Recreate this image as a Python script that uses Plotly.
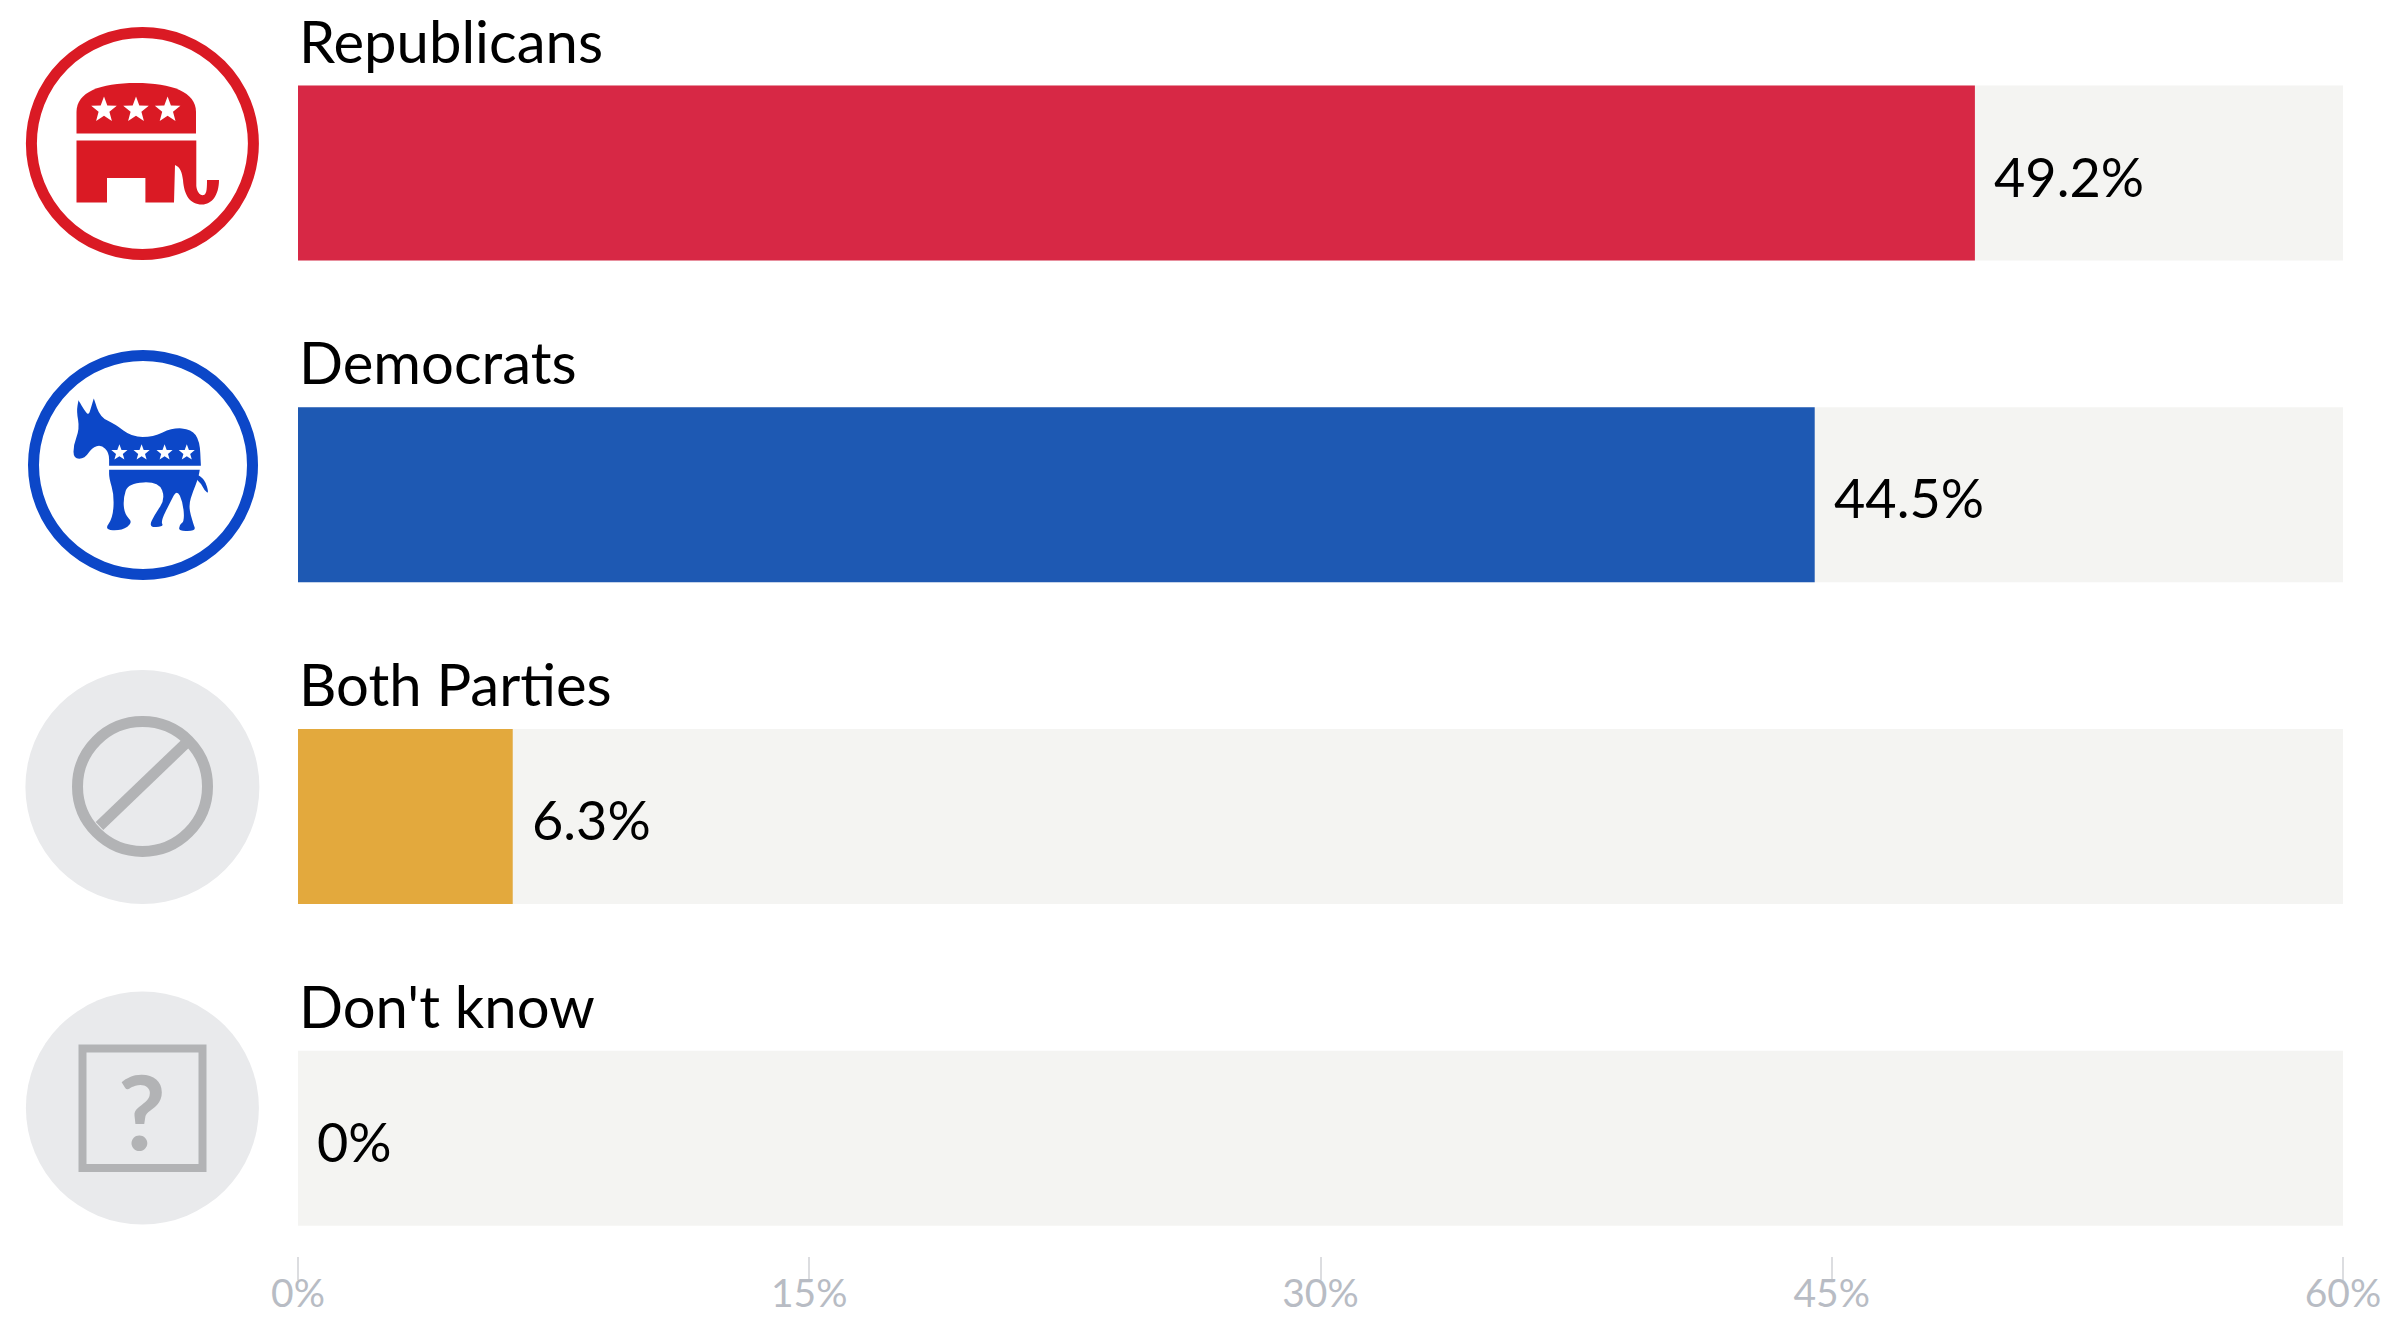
import math
import plotly.graph_objects as go

categories = ["Republicans", "Democrats", "Both Parties", "Don't know"]
values = [49.2, 44.5, 6.3, 0]
value_labels = ["49.2%", "44.5%", "6.3%", "0%"]
track_values = [60, 60, 60, 60]
bar_colors = ["#d72845", "#1e59b3", "#e3a93d", "#e3a93d"]
tick_values = [0, 15, 30, 45, 60]
tick_labels = ["0%", "15%", "30%", "45%", "60%"]

W, H = 2386, 1318
FONT = "Lato"
RED, BLUE, GREY_BG, GREY_FG = "#da1a24", "#0c47c8", "#e9eaec", "#b2b3b5"


def Z(x, y):
    return x / 2.613, y / 2.529


def smooth(points):
    """Rounded outline through midpoints; a point listed twice stays a sharp corner."""
    pts = [Z(*p) for p in points]
    n = len(pts)
    mid = lambda a, b: ((a[0] + b[0]) / 2, (a[1] + b[1]) / 2)
    start = mid(pts[-1], pts[0])
    d = f"M{start[0]:.1f},{start[1]:.1f}"
    for i in range(n):
        m = mid(pts[i], pts[(i + 1) % n])
        d += f" Q{pts[i][0]:.1f},{pts[i][1]:.1f} {m[0]:.1f},{m[1]:.1f}"
    return d + " Z"


def star(cx, cy, r):
    pts = []
    for i in range(10):
        a = -math.pi / 2 + i * math.pi / 5
        rr = r if i % 2 == 0 else r * 0.42
        pts.append((cx + rr * math.cos(a), cy + rr * math.sin(a)))
    return "M" + " L".join(f"{x:.1f},{y:.1f}" for x, y in pts) + " Z"


def shape(path=None, fill=None, line=None, lw=0):
    return dict(type="path", path=path, xref="x2", yref="y2", layer="above",
                fillcolor=fill or "rgba(0,0,0,0)",
                line=dict(color=line or "rgba(0,0,0,0)", width=lw))


def circle(cx, cy, r, fill=None, line=None, lw=0):
    return dict(type="circle", xref="x2", yref="y2", x0=cx - r, x1=cx + r, y0=cy - r, y1=cy + r,
                layer="above", fillcolor=fill or "rgba(0,0,0,0)",
                line=dict(color=line or "rgba(0,0,0,0)", width=lw))


A = (205, 1012)
B = (245, 1008)
C = (285, 1178)
D = (525, 1178)
E = (285, 1188)
F = (522, 1188)
shapes = [
    circle(142.4, 143.5, 111, "#ffffff", RED, 11),
    shape("M76.5,133.6 L76.5,112 C76.5,92 100,83 136,83 C172,83 196,92 196,112 L196,133.6 Z", RED),
    shape("M76.5,140.4 L196.3,140.4 L196.3,186 C197,192 200,196 204,195 C207,194 207,186 207,180 "
          "L219,180 C219,195 212,204.5 202,204.5 C190,204.5 184,195 183,180 C182,172 180,167 175,165 "
          "L174,202.5 L145.4,202.5 L145.4,178 L107,178 L107,202.5 L76.5,202.5 Z", RED),
    shape(star(104, 110, 13.5), "#ffffff"),
    shape(star(136, 110, 13.5), "#ffffff"),
    shape(star(167.6, 110, 13.5), "#ffffff"),
]

shapes += [
    circle(143, 465, 109.5, "#ffffff", BLUE, 11),
    shape(smooth([A, A, (222, 1040), (232, 1050), (238, 1030), B, B, (262, 1055), (300, 1072), (345, 1105),
                  (400, 1105), (450, 1082), (500, 1085), (522, 1115), D, D, C, C, (285, 1145),
                  (265, 1125), (240, 1132), (222, 1160), (192, 1160), (192, 1125), (208, 1085), (200, 1040)]), BLUE),
    shape(smooth([E, E, F, F, (518, 1210), (505, 1240), (492, 1280), (505, 1325), (512, 1342),
                  (468, 1344), (468, 1328), (482, 1318), (478, 1270), (462, 1238), (445, 1270), (420, 1318),
                  (428, 1332), (388, 1334), (405, 1300), (432, 1262), (415, 1218), (335, 1222), (322, 1260),
                  (325, 1300), (348, 1322), (318, 1342), (272, 1340), (295, 1310), (298, 1250), (285, 1210)]), BLUE),
    shape(smooth([(512, 1198), (535, 1212), (546, 1248), (535, 1242), (525, 1222), (512, 1212)]), BLUE),
]
for sx in (312, 370, 430, 488):
    x, y = Z(sx, 1145)
    shapes.append(shape(star(x, y, 8.5), "#ffffff"))

shapes += [
    circle(142.4, 787, 117, GREY_BG),
    circle(142.5, 786.5, 65, None, GREY_FG, 11),
    shape("M99.5,826 L187.5,741.6", None, GREY_FG, 11),
    circle(142.4, 1108, 116.5, GREY_BG),
    dict(type="rect", xref="x2", yref="y2", x0=82.5, x1=202.5, y0=1048.5, y1=1168, layer="above",
         fillcolor="rgba(0,0,0,0)", line=dict(color=GREY_FG, width=8)),
]

fig = go.Figure()
fig.add_bar(y=categories, x=track_values, orientation="h", marker=dict(color="#f4f4f2", line_width=0),
            width=0.544, hoverinfo="skip", showlegend=False)
fig.add_bar(y=categories, x=values, orientation="h", marker=dict(color=bar_colors, line_width=0),
            width=0.544, showlegend=False)

annotations = []
for c, v, t in zip(categories, values, value_labels):
    annotations.append(dict(x=v, y=c, xref="x", yref="y", text=t, showarrow=False, xanchor="left",
                            yanchor="middle", xshift=17, yshift=-3,
                            font=dict(family=FONT, size=54, color="#000000")))
    annotations.append(dict(x=0, y=c, xref="x", yref="y", text=c, showarrow=False, xanchor="left",
                            yanchor="middle", xshift=-1, yshift=133,
                            font=dict(family=FONT, size=58, color="#000000")))
annotations.append(dict(x=141.6, y=1109, xref="x2", yref="y2", text="<b>?</b>", showarrow=False,
                        xanchor="center", yanchor="middle",
                        font=dict(family=FONT, size=104, color=GREY_FG)))

fig.update_layout(
    width=W, height=H, margin=dict(l=0, r=0, t=0, b=0), autosize=False,
    paper_bgcolor="#ffffff", plot_bgcolor="rgba(0,0,0,0)", barmode="overlay",
    shapes=shapes, annotations=annotations,
    xaxis=dict(domain=[298 / W, 2343 / W], range=[0, 60], tickmode="array", tickvals=tick_values,
               ticktext=tick_labels, ticks="outside", ticklen=23, tickwidth=2, tickcolor="#dcdde0",
               ticklabelstandoff=-20,
               showgrid=False, zeroline=False, showline=False, automargin=False,
               tickfont=dict(family=FONT, size=39, color="#b8bcc4")),
    yaxis=dict(domain=[(H - 1256) / H, 1], range=[3.366, -0.538], type="category",
               categoryorder="array", categoryarray=categories, visible=False, automargin=False),
    xaxis2=dict(domain=[0, 1], range=[0, W], visible=False, anchor="y2", fixedrange=True),
    yaxis2=dict(domain=[0, 1], range=[H, 0], visible=False, anchor="x2", fixedrange=True),
)

fig.write_html("out.html", config={"displayModeBar": False},
               post_script="document.body.style.margin='0';")
